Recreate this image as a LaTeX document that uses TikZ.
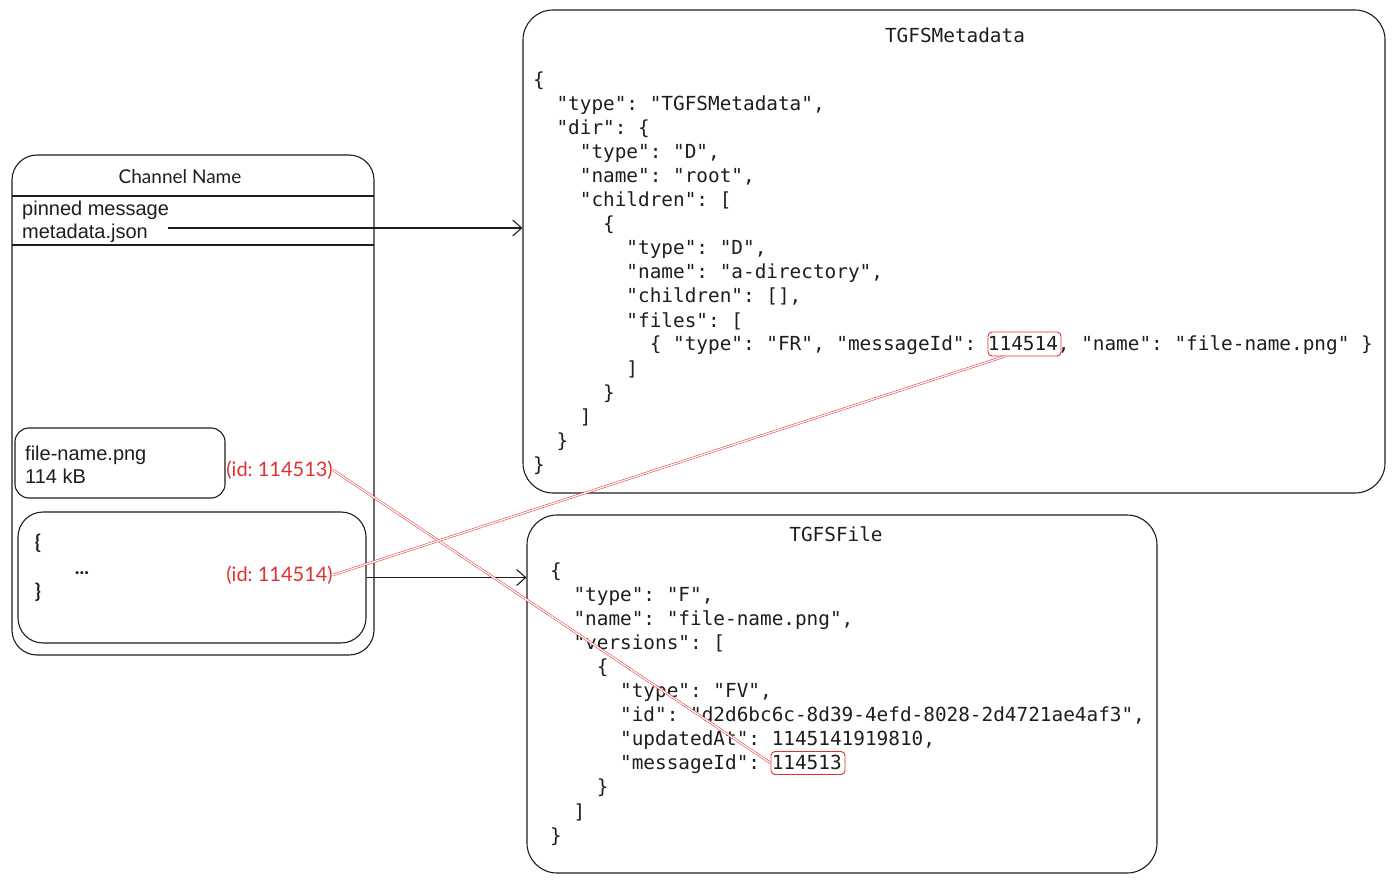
\documentclass[tikz,border=0pt]{standalone}
\usepackage{fontspec}
\setmainfont{Liberation Sans}
\newfontfamily\codefont{DejaVu Sans Mono}
\newfontfamily\handfont{Lato}
\usetikzlibrary{arrows.meta}
\definecolor{ink}{HTML}{1E1E1E}
\definecolor{exred}{HTML}{E03131}
\frenchspacing
\tikzset{
  box/.style={draw=ink, line width=1.1pt, inner sep=0pt},
  code/.style={font=\codefont\fontsize{19.37}{24}\selectfont\frenchspacing, text=ink, inner sep=0pt},
  sans/.style={font=\fontsize{20}{23}\selectfont, text=ink, anchor=base west, inner sep=0pt},
  hand/.style={font=\handfont\fontsize{19}{22}\selectfont, text=ink, inner sep=0pt},
  idlabel/.style={font=\handfont\fontsize{20}{22}\selectfont, text=exred, anchor=east, inner sep=0pt},
  idbox/.style={draw=exred, line width=0.9pt, rounded corners=4pt, inner sep=0pt},
  link/.style={draw=exred, line width=0.5pt, double=white, double distance=1.3pt},
  arrow/.style={draw=ink, line width=1.1pt, -{Straight Barb[length=9pt,width=16pt]}},
}
\begin{document}
\begin{tikzpicture}[x=1pt,y=-1pt]
\fill[white] (0,0) rectangle (1394,882);
\useasboundingbox (0,0) rectangle (1394,882);

% Channel
\node[box, rounded corners=25pt, minimum width=362pt, minimum height=500pt] (channel) at (193,405) {};
\node[hand] (chtitle) at (180,177) {Channel Name};
\draw[ink, line width=1.1pt] (12,196) -- (374,196);
\draw[ink, line width=1.1pt] (12,245) -- (374,245);
\node[sans] (pinned) at (22,216) {pinned message};
\node[sans] (metajson) at (22,239) {metadata.json};

\node[box, rounded corners=14pt, minimum width=210pt, minimum height=70pt] (fbox) at (120,463) {};
\node[sans] (fname) at (25,460) {file-name.png};
\node[sans] (fsize) at (25,483) {114 kB};

\node[box, rounded corners=25pt, minimum width=348pt, minimum height=131pt] (braces) at (192,577.5) {};
\node[hand, font=\handfont\bfseries\fontsize{20}{22}\selectfont] (bopen) at (38,543) {\{};
\node[hand, font=\handfont\bfseries\fontsize{20}{22}\selectfont] (bdots) at (82,573) {...};
\node[hand, font=\handfont\bfseries\fontsize{20}{22}\selectfont] (bclose) at (38,592) {\}};

\node[idlabel] (id1) at (333,470) {(id: 114513)};
\node[idlabel] (id2) at (333,575) {(id: 114514)};

% TGFSMetadata
\node[box, rounded corners=30pt, minimum width=862pt, minimum height=483pt] (meta) at (954,251.5) {};
\node[code] (metatitle) at (955,35) {TGFSMetadata};
\foreach \n/\c/\t in {
  0/0/{\{},
  1/2/{"type": "TGFSMetadata",},
  2/2/{"dir": \{},
  3/4/{"type": "D",},
  4/4/{"name": "root",},
  5/4/{"children": [},
  6/6/{\{},
  7/8/{"type": "D",},
  8/8/{"name": "a-directory",},
  9/8/{"children": [],},
  10/8/{"files": [},
  11/10/{\{ "type": "FR", "messageId": 114514, "name": "file-name.png" \}},
  12/8/{]},
  13/6/{\}},
  14/4/{]},
  15/2/{\}},
  16/0/{\}}}
  \node[code, anchor=base west] (ml\n) at ({533+11.66*\c},{87+24*\n}) {\t};
\node[idbox, minimum width=73pt, minimum height=24pt] (m514) at (1024.5,344) {};

% TGFSFile
\node[box, rounded corners=30pt, minimum width=630pt, minimum height=358pt] (tfile) at (842,694) {};
\node[code] (filetitle) at (836,534) {TGFSFile};
\foreach \n/\c/\t in {
  0/0/{\{},
  1/2/{"type": "F",},
  2/2/{"name": "file-name.png",},
  3/2/{"versions": [},
  4/4/{\{},
  5/6/{"type": "FV",},
  6/6/{"id": "d2d6bc6c-8d39-4efd-8028-2d4721ae4af3",},
  7/6/{"updatedAt": 1145141919810,},
  8/6/{"messageId": 114513},
  9/4/{\}},
  10/2/{]},
  11/0/{\}}}
  \node[code, anchor=base west] (fl\n) at ({550+11.66*\c},{577+24.1*\n}) {\t};
\node[idbox, minimum width=74pt, minimum height=23pt] (m513) at (808,763) {};

% arrows
\coordinate (a1) at (168,228);
\draw[arrow] (a1) -- (a1 -| meta.west);
\draw[arrow] (braces.east) -- (braces.east -| tfile.west);

% red links
\draw[link] (id1.east) -- (m513.west);
\draw[link] (id2.east) -- ([xshift=-20pt]m514.south);
\end{tikzpicture}
\end{document}
